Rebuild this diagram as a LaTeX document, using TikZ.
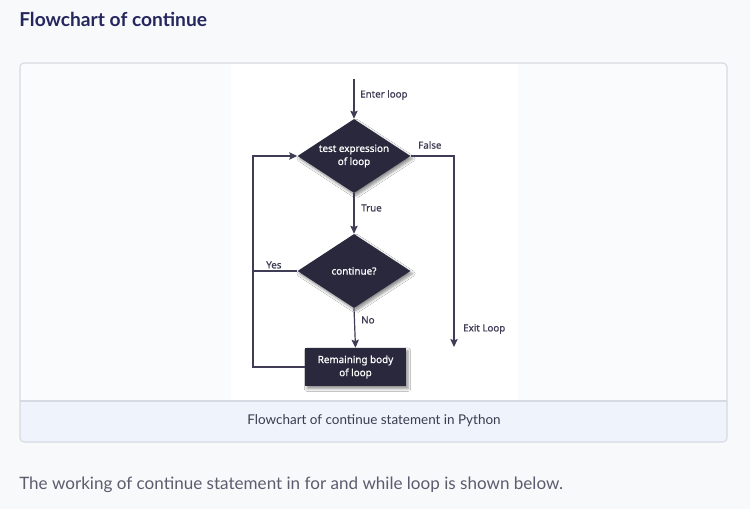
\documentclass[tikz,border=0pt]{standalone}
\usepackage{fontspec}
\setmainfont{Lato}
\newfontfamily\chartfont{Noto Sans}[FakeBold=0.9]
\usetikzlibrary{positioning,arrows.meta,shapes.geometric,shadows.blur}
\definecolor{pagebg}{HTML}{F8F9FB}
\definecolor{cardbg}{HTML}{FAFBFD}
\definecolor{cardline}{HTML}{D6DAE1}
\definecolor{capbg}{HTML}{EEF3FC}
\definecolor{titlecol}{HTML}{25265E}
\definecolor{captext}{HTML}{3A3C50}
\definecolor{bodytext}{HTML}{5B5D6E}
\definecolor{chartdark}{HTML}{29283D}
\definecolor{chartline}{HTML}{3E3D55}

\begin{document}
\begin{tikzpicture}[x=0.75pt,y=-0.75pt]
	\tikzstyle{decision} = [diamond, fill=chartdark, aspect=1.53, inner sep=0pt, minimum width=84.75pt, minimum height=55.5pt, blur shadow={shadow xshift=1.5pt, shadow yshift=-2pt, shadow opacity=45, shadow blur steps=6}]
	\tikzstyle{process} = [rectangle, fill=chartdark, minimum width=75.75pt, minimum height=28.5pt, inner sep=0pt, blur shadow={shadow xshift=1.5pt, shadow yshift=-2pt, shadow opacity=45, shadow blur steps=6}]
	\tikzstyle{inside} = [text=white, align=center, font=\chartfont\fontsize{7.4}{9.8}\selectfont]
	\tikzstyle{flow} = [draw=chartline, line width=0.9pt]
	\tikzstyle{arrow} = [-{Stealth[length=6pt, width=5.5pt, inset=1pt]}]
	\tikzstyle{tag} = [anchor=west, inner sep=0pt, text=chartline, font=\chartfont\fontsize{7.3}{8}\selectfont]

	% page and card
	\fill[pagebg] (0,0) rectangle (750,509);
	\useasboundingbox (0,0) rectangle (750,509);
	\fill[cardbg, rounded corners=3pt] (20,63) rectangle (727,442);
	\fill[white] (231,64) rectangle (518,400);
	\fill[capbg, rounded corners=3pt] (20,401) rectangle (727,442);
	\fill[capbg] (20,401) rectangle (727,420);
	\draw[cardline, line width=0.8pt] (20,401) -- (727,401);
	\draw[cardline, line width=0.8pt, rounded corners=3pt] (20,63) rectangle (727,442);

	\node[anchor=west, inner sep=0pt, text=titlecol, font=\bfseries\fontsize{14.4}{17}\selectfont] (title) at (19,19) {Flowchart of continue};
	\node[text=captext, font=\fontsize{10.1}{12}\selectfont] (caption) at (374,421) {Flowchart of continue statement in Python};
	\node[anchor=west, inner sep=0pt, text=bodytext, font=\fontsize{12.8}{15}\selectfont] (below) at (19,485) {The working of continue statement in for and while loop is shown below.};

	% flowchart
	\coordinate (start) at (354,79);
	\node[decision] (test) at (354,156) {};
	\node[inside] (testtext) at (test) {test expression\\of loop};
	\node[decision] (cont) at (354,271) {};
	\node[inside] (conttext) at (cont) {continue?};
	\node[process, inside] (rest) at (355.5,367) {Remaining body\\of loop};
	\coordinate (exit) at (454,347);
	\coordinate (rail) at (253,271);

	\draw[flow, arrow] (start) -- (test.north);
	\draw[flow, arrow] (test.east) -| (exit);
	\draw[flow, arrow] (test.south) -- (cont.north);
	\draw[flow, arrow] (cont.south) -- (rest.north);
	\draw[flow] (cont.west) -- (rail);
	\draw[flow, arrow] (rest.west) -| (rail) |- (test.west);

	\node[tag] (enter) at (360,95) {Enter loop};
	\node[tag] (false) at (418,145) {False};
	\node[tag] (true) at (361,208) {True};
	\node[tag] (yes) at (266,265) {Yes};
	\node[tag] (no) at (361,320) {No};
	\node[tag] (exitlabel) at (463,329) {Exit Loop};
\end{tikzpicture}
\end{document}
